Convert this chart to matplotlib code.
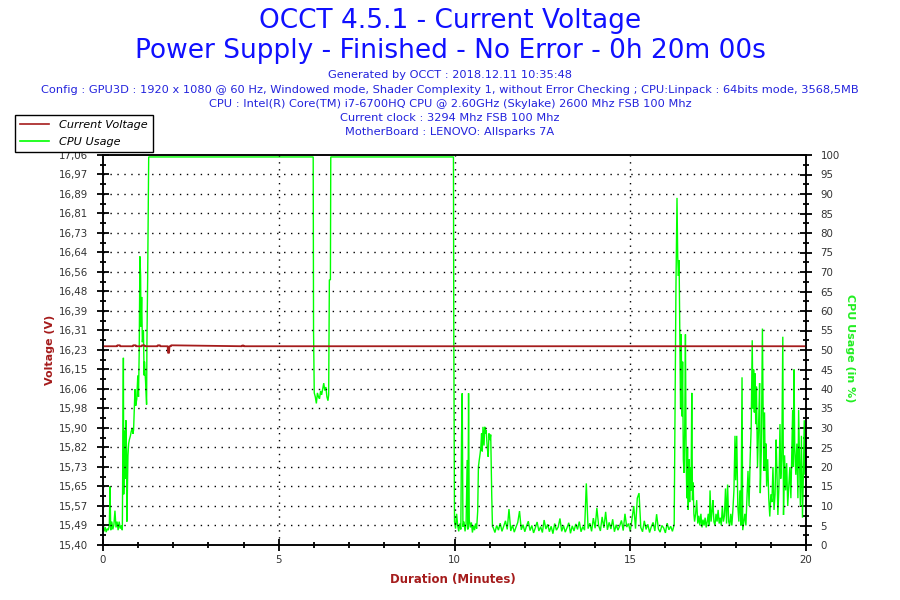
import numpy as np
import matplotlib
matplotlib.use("Agg")
import matplotlib.pyplot as plt
from matplotlib.ticker import AutoMinorLocator, MultipleLocator
from matplotlib.lines import Line2D

# ---------------- data ----------------
title_1 = "OCCT 4.5.1 - Current Voltage"
title_2 = "Power Supply - Finished - No Error - 0h 20m 00s"
info_lines = [
    "Generated by OCCT : 2018.12.11 10:35:48",
    "Config : GPU3D : 1920 x 1080 @ 60 Hz, Windowed mode, Shader Complexity 1, without Error Checking ; CPU:Linpack : 64bits mode, 3568,5MB",
    "CPU : Intel(R) Core(TM) i7-6700HQ CPU @ 2.60GHz (Skylake) 2600 Mhz FSB 100 Mhz",
    "Current clock : 3294 Mhz FSB 100 Mhz",
    "MotherBoard : LENOVO: Allsparks 7A",
]

volt_tick_labels = ["15,40", "15,49", "15,57", "15,65", "15,73", "15,82", "15,90",
                    "15,98", "16,06", "16,15", "16,23", "16,31", "16,39", "16,48",
                    "16,56", "16,64", "16,73", "16,81", "16,89", "16,97", "17,06"]
cpu_tick_labels = [str(v) for v in range(0, 101, 5)]
x_tick_labels = ["0", "5", "10", "15", "20"]

# voltage (V)
volt_t = [0.00, 0.40, 0.41, 0.48, 0.49, 0.85, 0.86, 0.93, 0.94, 1.10, 1.11, 1.18,
          1.19, 1.55, 1.56, 1.62, 1.63, 1.84, 1.85, 1.88, 1.89, 1.93, 1.94, 3.95,
          3.96, 4.00, 4.01, 20.00]
volt_v = [16.246, 16.246, 16.250, 16.250, 16.246, 16.246, 16.250, 16.250, 16.246,
          16.246, 16.250, 16.250, 16.246, 16.246, 16.250, 16.250, 16.246, 16.246,
          16.218, 16.218, 16.246, 16.246, 16.250, 16.246, 16.249, 16.249, 16.246,
          16.246]

# CPU usage (%) - warm-up phase
warm_t = [0.00, 0.03, 0.06, 0.09, 0.12, 0.15, 0.18, 0.20, 0.22, 0.25, 0.28, 0.31,
          0.34, 0.37, 0.40, 0.43, 0.46, 0.49, 0.52, 0.55, 0.58, 0.59, 0.61, 0.63,
          0.65, 0.67, 0.68, 0.71, 0.73, 0.75, 0.78, 0.80, 0.83, 0.85, 0.87, 0.89,
          0.91, 0.93, 0.96, 0.99, 1.01, 1.03, 1.05, 1.07, 1.08, 1.10, 1.12, 1.15,
          1.17, 1.18, 1.21, 1.24, 1.25, 1.27, 1.30]
warm_v = [4.5, 3.5, 4.6, 3.3, 4.2, 3.8, 5.0, 15.0, 3.8, 6.0, 4.0, 5.2,
          8.8, 4.5, 6.0, 3.8, 6.0, 4.2, 5.0, 3.8, 48.0, 13.0, 29.3, 17.0,
          32.0, 24.0, 6.0, 23.0, 26.0, 27.0, 28.0, 29.0, 30.0, 28.5, 29.5, 34.5,
          40.0, 35.7, 37.4, 43.5, 38.0, 49.6, 74.0, 69.0, 56.0, 63.6, 52.0, 55.0,
          43.5, 47.0, 42.0, 36.0, 52.0, 68.0, 99.5]

# first full-load block and dip
load_t = [5.98, 5.99, 6.01, 6.04, 6.07, 6.10, 6.13, 6.16, 6.19, 6.22, 6.25,
          6.28, 6.31, 6.34, 6.37, 6.40, 6.42, 6.44, 6.47, 6.48, 9.97, 9.98]
load_v = [99.5, 54.7, 39.0, 38.0, 36.3, 39.0, 38.0, 37.5, 39.5, 38.5, 40.0,
          41.5, 39.6, 40.5, 38.0, 37.0, 38.5, 68.0, 68.0, 99.5, 99.5, 53.6]

# after the load: short bursts
burst_t = [10.00, 10.03, 10.06, 10.09, 10.12, 10.15, 10.18, 10.20, 10.22, 10.24,
           10.27, 10.30, 10.33, 10.36, 10.38, 10.40, 10.42, 10.45, 10.48, 10.51,
           10.54, 10.57, 10.60, 10.63, 10.66, 10.68, 10.70, 10.73, 10.75, 10.77,
           10.79, 10.81, 10.84, 10.86, 10.88, 10.90, 10.93, 10.96, 10.98, 11.01,
           11.03, 11.06, 11.08]
burst_v = [6.0, 4.2, 8.0, 5.0, 3.5, 5.5, 4.0, 27.8, 38.9, 4.7,
           6.0, 3.5, 5.5, 21.8, 4.0, 38.9, 6.4, 4.5, 5.8, 3.2,
           5.0, 3.8, 5.5, 4.2, 8.7, 20.0, 21.5, 23.5, 25.2, 28.6,
           24.0, 30.3, 25.5, 30.3, 28.6, 29.5, 25.2, 22.6, 28.6, 26.9,
           28.3, 12.4, 4.7]

# idle phase 11.10 .. 16.25 min (every 0.05 min)
idle_start, idle_end = 11.10, 16.25
idle_v = [4.5, 3.2, 5.0, 3.8, 5.6, 3.5, 4.8, 6.2, 4.0, 9.2,
          3.6, 5.1, 3.3, 4.6, 5.8, 8.7, 3.9, 5.2, 3.4, 4.9,
          6.1, 3.7, 5.0, 3.1, 4.4, 5.9, 3.6, 4.7, 3.2, 6.4,
          4.1, 5.3, 3.4, 4.8, 2.9, 5.5, 3.8, 4.6, 6.8, 3.5,
          5.0, 3.3, 4.4, 5.7, 3.0, 4.9, 3.6, 5.4, 4.0, 6.0,
          3.4, 4.7, 3.8, 15.8, 4.2, 5.6, 3.5, 6.9, 4.3, 9.5,
          5.0, 3.6, 7.2, 4.4, 8.5, 3.9, 5.8, 4.1, 6.6, 3.4,
          5.2, 3.8, 4.9, 6.3, 3.7, 8.0, 4.6, 5.5, 3.5, 6.8,
          10.0, 4.2, 12.0, 13.3, 4.5, 3.4, 6.2, 4.0, 5.3, 3.2,
          4.7, 5.8, 3.6, 7.9, 4.1, 3.3, 5.0, 4.4, 3.1, 5.6,
          3.9, 4.8, 3.5, 5.2]

# final phase with activity
end_t = [16.27, 16.30, 16.33, 16.35, 16.37, 16.39, 16.41, 16.43, 16.45, 16.47,
         16.49, 16.51, 16.53, 16.55, 16.57, 16.59, 16.61, 16.63, 16.65, 16.67,
         16.69, 16.71, 16.73, 16.75, 16.77, 16.79, 16.81, 16.83, 16.86, 16.89,
         16.92, 16.95, 16.98, 17.01, 17.04, 17.07, 17.10, 17.13, 17.16, 17.19,
         17.22, 17.25, 17.27, 17.30, 17.33, 17.35, 17.38, 17.41, 17.44, 17.47,
         17.50, 17.53, 17.56, 17.59, 17.62, 17.65, 17.68, 17.71, 17.74, 17.77,
         17.80, 17.83, 17.86, 17.89, 17.92, 17.95, 17.98, 18.00, 18.03, 18.06,
         18.09, 18.12, 18.15, 18.18, 18.20, 18.23, 18.26, 18.29, 18.32, 18.35,
         18.38, 18.41, 18.44, 18.47, 18.49, 18.51, 18.53, 18.55, 18.57, 18.59,
         18.62, 18.65, 18.68, 18.70, 18.73, 18.76, 18.78, 18.80, 18.82, 18.84,
         18.86, 18.88, 18.91, 18.94, 18.97, 19.00, 19.03, 19.06, 19.09, 19.12,
         19.15, 19.17, 19.20, 19.23, 19.26, 19.28, 19.31, 19.34, 19.36, 19.39,
         19.42, 19.45, 19.48, 19.51, 19.54, 19.57, 19.60, 19.62, 19.64, 19.66,
         19.68, 19.71, 19.74, 19.77, 19.79, 19.81, 19.84, 19.87, 19.90, 19.93,
         19.95, 19.98, 20.00]
end_v = [29.5, 66.0, 89.0, 74.0, 69.0, 73.0, 53.0, 35.0, 54.0, 33.0,
         47.0, 22.0, 18.5, 30.0, 54.0, 22.0, 12.0, 25.0, 9.0, 22.0,
         11.0, 20.0, 14.0, 39.0, 11.5, 16.0, 8.0, 6.0, 8.0, 11.5,
         5.5, 7.5, 5.0, 8.0, 4.5, 6.5, 5.0, 7.0, 4.5, 6.0,
         8.0, 5.0, 14.0, 6.0, 9.0, 11.5, 6.0, 5.0, 8.0, 6.0,
         9.0, 5.5, 7.0, 5.0, 10.0, 6.0, 7.5, 14.5, 5.5, 15.5,
         6.0, 5.0, 8.0, 5.0, 9.0, 14.0, 28.0, 16.6, 28.0, 10.0,
         6.0, 14.0, 5.0, 43.0, 3.8, 6.0, 8.0, 5.0, 12.0, 19.0,
         10.0, 21.8, 30.0, 52.5, 35.0, 45.0, 34.0, 44.0, 31.0, 40.6,
         20.0, 30.0, 41.5, 13.3, 25.0, 55.5, 35.0, 19.0, 34.0, 19.0,
         26.0, 15.0, 22.0, 12.0, 7.3, 13.0, 11.0, 20.0, 9.0, 13.0,
         27.0, 20.0, 7.7, 15.0, 31.0, 17.0, 22.0, 53.4, 7.7, 23.0,
         14.0, 21.0, 10.0, 15.0, 20.0, 12.0, 25.0, 34.6, 20.0, 45.0,
         24.8, 18.0, 26.0, 12.0, 34.6, 24.8, 10.0, 28.0, 7.0, 20.0,
         32.0, 18.0, 25.0]

# ---------------- assemble ----------------
idle_t = np.linspace(idle_start, idle_end, len(idle_v))
cpu_t = np.concatenate([warm_t, load_t, burst_t, idle_t, end_t])
cpu_v = np.concatenate([warm_v, load_v, burst_v, idle_v, end_v])

# ---------------- styling ----------------
plt.rcParams['font.family'] = ['DejaVu Sans']
RED = '#A51C1C'
GREEN = '#00FF00'
BLUE_T = '#1010FF'
BLUE_S = '#2323DD'
BG = '#FDF6E8'
TICKC = '#333333'

fig = plt.figure(figsize=(9, 6), dpi=100)
fig.patch.set_facecolor('white')

L, R, B, T = 103 / 900, 806 / 900, 55 / 600, 445 / 600
ax_v = fig.add_axes([L, B, R - L, T - B])
ax_c = ax_v.twinx()
ax_v.set_zorder(ax_c.get_zorder() + 1)
ax_v.patch.set_visible(False)
ax_c.patch.set_facecolor(BG)

# lines
ax_c.plot(cpu_t, cpu_v, color=GREEN, lw=1.0, solid_joinstyle='miter')
ax_v.plot(volt_t, volt_v, color=RED, lw=1.3)

# axes limits / ticks
v_lo, v_hi = 15.40, 17.06
ax_v.set_xlim(0, 20)
ax_v.set_ylim(v_lo, v_hi)
vt_pos = np.linspace(v_lo, v_hi, len(volt_tick_labels))
ax_v.set_yticks(vt_pos)
ax_v.set_yticklabels(volt_tick_labels)
ax_v.yaxis.set_minor_locator(AutoMinorLocator(2))
ax_v.set_xticks([0, 5, 10, 15, 20])
ax_v.set_xticklabels(x_tick_labels)
ax_v.xaxis.set_minor_locator(MultipleLocator(1))

ax_c.set_ylim(0, 100)
ax_c.set_yticks(np.arange(0, 101, 5))
ax_c.set_yticklabels(cpu_tick_labels)
ax_c.yaxis.set_minor_locator(AutoMinorLocator(2))

for a in (ax_v, ax_c):
    a.tick_params(axis='both', which='major', direction='inout', length=9,
                  width=1.3, color='black', labelsize=7.4, labelcolor=TICKC)
    a.tick_params(axis='both', which='minor', direction='inout', length=4.5,
                  width=1.3, color='black')
    for s in a.spines.values():
        s.set_color('black')
        s.set_linewidth(1.1)
ax_v.tick_params(axis='y', which='major', pad=6)
ax_c.tick_params(axis='y', which='major', pad=6)
ax_v.tick_params(axis='x', which='major', pad=3)

# grid (dotted)
dot = (0, (1.0, 4.0))
for yv in vt_pos[1:-1]:
    ax_v.axhline(yv, color='black', lw=1.0, ls=dot, zorder=0.5)
for xv in [5, 10, 15]:
    ax_v.axvline(xv, color='black', lw=1.0, ls=dot, zorder=0.5)

# titles
fig.text(0.5, 1 - 21 / 600, title_1, ha='center', va='center', fontsize=19, color=BLUE_T)
fig.text(0.5, 1 - 51 / 600, title_2, ha='center', va='center', fontsize=19, color=BLUE_T)
info_y = [75, 90, 104, 118, 132]
for yy, txt in zip(info_y, info_lines):
    fig.text(0.5, 1 - yy / 600, txt, ha='center', va='center', fontsize=8.2, color=BLUE_S)

# axis labels
fig.text(50 / 900, 1 - 350 / 600, "Voltage (V)", rotation=90, ha='center', va='center',
         fontsize=8, fontweight='bold', color=RED)
fig.text(850 / 900, 1 - 348 / 600, "CPU Usage (in %)", rotation=270, ha='center', va='center',
         fontsize=8, fontweight='bold', color='#22EE22')
fig.text(453 / 900, 1 - 579 / 600, "Duration (Minutes)", ha='center', va='center',
         fontsize=8.5, fontweight='bold', color=RED)

# legend
handles = [Line2D([], [], color=RED, lw=1.2), Line2D([], [], color=GREEN, lw=1.2)]
leg = fig.legend(handles, ["Current Voltage", "CPU Usage"], loc='upper left',
                 bbox_to_anchor=(15 / 900, 1 - 115 / 600), borderaxespad=0,
                 frameon=True, fancybox=False, framealpha=1, edgecolor='black',
                 prop={'size': 8.1, 'style': 'italic'}, handlelength=2.6,
                 handletextpad=0.9, borderpad=0.45, labelspacing=0.6)
leg.get_frame().set_linewidth(1.0)

fig.savefig("out.png", dpi=100, facecolor='white')
